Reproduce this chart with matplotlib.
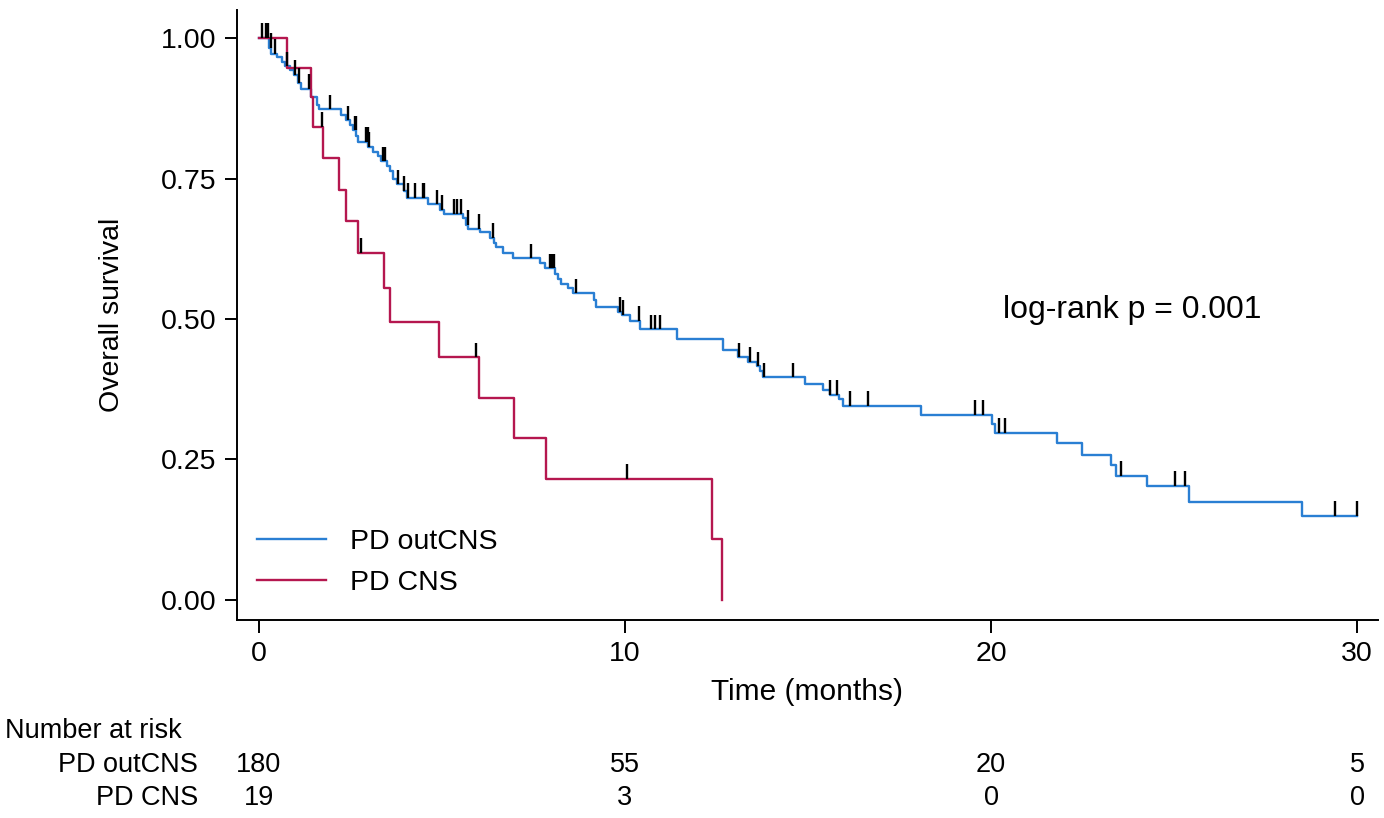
import numpy as np
import matplotlib
matplotlib.use("Agg")
import matplotlib.pyplot as plt
import matplotlib.transforms as mtransforms
from matplotlib.ticker import FormatStrFormatter

plt.rcParams['font.family'] = ['Liberation Sans', 'DejaVu Sans']

# PD outCNS: step times (months) and survival after each step
out_t = [0.27, 0.33, 0.50, 0.62, 0.72, 0.85, 0.95, 1.07, 1.15, 1.42, 1.58, 1.63,
         2.25, 2.39, 2.50, 2.58, 2.66, 2.72, 2.99, 3.12, 3.25, 3.33, 3.50, 3.58,
         3.67, 3.78, 3.95, 4.05, 4.63, 4.95, 5.05, 5.58, 5.66, 5.72, 6.04, 6.31,
         6.42, 6.48, 6.67, 6.95, 7.68, 7.81, 8.10, 8.18, 8.25, 8.45, 8.59, 9.14,
         9.22, 9.80, 9.92, 10.14, 10.42, 11.41, 12.69, 13.10, 13.37, 13.60, 13.69,
         13.78, 14.92, 15.42, 15.60, 15.85, 15.96, 18.08, 20.02, 20.11, 21.81,
         22.49, 23.28, 23.42, 24.27, 25.41, 28.50]
out_s = [0.983, 0.972, 0.966, 0.958, 0.950, 0.943, 0.935, 0.920, 0.910, 0.896,
         0.881, 0.873, 0.863, 0.854, 0.845, 0.836, 0.826, 0.815, 0.806, 0.797,
         0.790, 0.781, 0.772, 0.763, 0.750, 0.740, 0.728, 0.716, 0.704, 0.694,
         0.687, 0.679, 0.668, 0.661, 0.654, 0.645, 0.636, 0.628, 0.617, 0.608,
         0.599, 0.590, 0.580, 0.572, 0.563, 0.555, 0.546, 0.534, 0.521, 0.513,
         0.507, 0.497, 0.482, 0.464, 0.444, 0.432, 0.424, 0.416, 0.408, 0.396,
         0.384, 0.374, 0.365, 0.358, 0.345, 0.330, 0.314, 0.298, 0.280, 0.258,
         0.240, 0.221, 0.203, 0.175, 0.150]
out_end = 30.0
out_cens = [0.08, 0.20, 0.26, 0.32, 0.45, 0.77, 0.98, 1.10, 1.37, 1.95, 2.42,
            2.62, 2.65, 2.93, 2.97, 3.00, 3.38, 3.45, 3.80, 3.96, 4.08, 4.27,
            4.48, 4.52, 4.87, 5.00, 5.32, 5.42, 5.52, 5.70, 6.02, 6.40, 7.42,
            7.96, 8.00, 8.05, 8.65, 9.87, 9.95, 10.38, 10.71, 10.83, 10.96,
            13.12, 13.42, 13.62, 13.80, 14.58, 15.61, 15.80, 16.15, 16.65,
            19.56, 19.77, 20.22, 20.38, 23.54, 25.03, 25.31, 29.40, 29.99]

# PD CNS
cns_t = [0.78, 1.42, 1.47, 1.76, 2.19, 2.38, 2.70, 3.42, 3.58, 4.92, 6.01,
         6.98, 7.84, 12.37, 12.66]
cns_s = [0.947, 0.895, 0.842, 0.786, 0.730, 0.674, 0.618, 0.556, 0.494,
         0.432, 0.360, 0.288, 0.216, 0.108, 0.0]
cns_end = 12.66
cns_cens = [1.72, 2.80, 5.92, 10.06]

risk_times = [0, 10, 20, 30]
risk_out = [180, 55, 20, 5]
risk_cns = [19, 3, 0, 0]

blue = '#2a7fd3'
red = '#b5174f'


def level_at(times, surv, t):
    i = np.searchsorted(times, t, side='right')
    return 1.0 if i == 0 else surv[i - 1]


fig = plt.figure(figsize=(13.84, 8.18), dpi=100)
ax = fig.add_axes([0.1712, 0.2421, 0.8245, 0.7457])

for times, surv, end, cens, col, lab in [
        (out_t, out_s, out_end, out_cens, blue, 'PD outCNS'),
        (cns_t, cns_s, cns_end, cns_cens, red, 'PD CNS')]:
    xs = [0] + list(times) + [end]
    ys = [1.0] + list(surv) + [surv[-1]]
    ax.step(xs, ys, where='post', color=col, lw=1.7, label=lab, zorder=3)
    lv = [level_at(times, surv, c) for c in cens]
    ax.vlines(cens, lv, np.array(lv) + 0.026, color='black', lw=1.7, zorder=4)

ax.set_xlim(-0.6, 30.57)
ax.set_ylim(-0.0356, 1.05)
ax.set_xticks([0, 10, 20, 30])
ax.set_yticks([0, 0.25, 0.5, 0.75, 1.0])
ax.yaxis.set_major_formatter(FormatStrFormatter('%.2f'))
ax.tick_params(direction='out', length=9, width=1.4, labelsize=20.5, pad=6,
               colors='black')
for side in ['top', 'right']:
    ax.spines[side].set_visible(False)
for side in ['left', 'bottom']:
    ax.spines[side].set_linewidth(1.4)

ax.set_ylabel('Overall survival', fontsize=20.5)
ax.yaxis.set_label_coords(-0.098, 0.5)
ax.set_xlabel('Time (months)', fontsize=21.5)
ax.xaxis.set_label_coords(0.5, -0.095)

ax.text(20.33, 0.516, 'log-rank p = 0.001', fontsize=23, va='center', ha='left')

ax.legend(loc='lower left', bbox_to_anchor=(0.018, 0.04), frameon=False,
          fontsize=20.5, handlelength=2.4, handletextpad=0.85, labelspacing=0.5,
          borderaxespad=0, borderpad=0)

# number at risk table
tr = mtransforms.blended_transform_factory(ax.transData, fig.transFigure)
fig.text(0.0036, 0.1064, 'Number at risk', fontsize=19.5, ha='left', va='center')
fig.text(0.143, 0.0648, 'PD outCNS', fontsize=19.5, ha='right', va='center')
fig.text(0.143, 0.0245, 'PD CNS', fontsize=19.5, ha='right', va='center')
for x, a, b in zip(risk_times, risk_out, risk_cns):
    ax.text(x, 0.0648, str(a), transform=tr, fontsize=19.5, ha='center', va='center')
    ax.text(x, 0.0245, str(b), transform=tr, fontsize=19.5, ha='center', va='center')

fig.savefig('out.png', dpi=100)
